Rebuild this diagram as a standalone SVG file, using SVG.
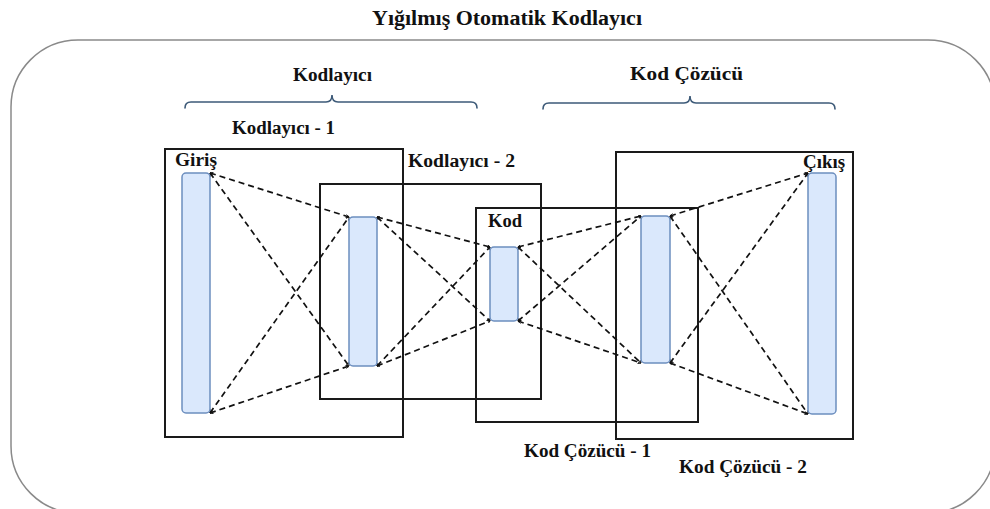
<svg xmlns="http://www.w3.org/2000/svg" width="990" height="509" viewBox="0 0 990 509">
  <style>
    .lbl { font-family: "Liberation Serif", "DejaVu Serif", "Times New Roman", serif; font-weight: bold; fill: #111; }
    .frame { fill: none; stroke: #8a8a8a; stroke-width: 1.5; }
    .group { fill: none; stroke: #1a1a1a; stroke-width: 2; }
    .layer { fill: #dae8fc; stroke: #6c8ebf; stroke-width: 1.5; }
    .brace { fill: none; stroke: #3d5a78; stroke-width: 1.6; stroke-linecap: round; }
    .link { fill: none; stroke: #111; stroke-width: 1.7; stroke-dasharray: 6 4; marker-start: url(#tip); marker-end: url(#tip); }
  </style>
  <defs>
    <marker id="tip" viewBox="0 0 6 6" refX="5.5" refY="3" markerWidth="3.5" markerHeight="3.5" orient="auto-start-reverse" markerUnits="userSpaceOnUse">
      <path d="M0,0 L6,3 L0,6" fill="none" stroke="#111" stroke-width="1.4"/>
    </marker>
  </defs>
  <rect width="990" height="509" fill="#ffffff"/>

  <!-- title -->
  <text class="lbl" x="507" y="25" font-size="20" text-anchor="middle" textLength="270" lengthAdjust="spacingAndGlyphs">Yığılmış Otomatik Kodlayıcı</text>

  <!-- outer rounded frame -->
  <rect class="frame" x="11" y="40" width="984" height="473" rx="67" ry="67"/>

  <!-- encoder / decoder braces -->
  <g id="encoder-brace">
    <path class="brace" d="M185,108 Q185,102 191,102 L326,102 Q332,102 332,95 Q332,102 338,102 L471,102 Q477,102 477,108"/>
    <text class="lbl" x="293" y="81" font-size="18" textLength="79" lengthAdjust="spacingAndGlyphs">Kodlayıcı</text>
  </g>
  <g id="decoder-brace">
    <path class="brace" d="M543,109 Q543,103 549,103 L684,103 Q690,103 690,96 Q690,103 696,103 L829,103 Q835,103 835,109"/>
    <text class="lbl" x="630" y="80" font-size="18" textLength="113" lengthAdjust="spacingAndGlyphs">Kod Çözücü</text>
  </g>

  <!-- stage boxes -->
  <g id="encoder-1">
    <rect class="group" x="165" y="149" width="238" height="288"/>
    <text class="lbl" x="232" y="134" font-size="18" textLength="103" lengthAdjust="spacingAndGlyphs">Kodlayıcı - 1</text>
  </g>
  <g id="encoder-2">
    <rect class="group" x="320" y="184" width="221" height="215"/>
    <text class="lbl" x="408" y="167" font-size="18" textLength="107" lengthAdjust="spacingAndGlyphs">Kodlayıcı - 2</text>
  </g>
  <g id="decoder-1">
    <rect class="group" x="476" y="208" width="222" height="214"/>
    <text class="lbl" x="524" y="457" font-size="18" textLength="127" lengthAdjust="spacingAndGlyphs">Kod Çözücü - 1</text>
  </g>
  <g id="decoder-2">
    <rect class="group" x="616" y="152" width="237" height="287"/>
    <text class="lbl" x="679" y="473" font-size="18" textLength="128" lengthAdjust="spacingAndGlyphs">Kod Çözücü - 2</text>
  </g>

  <!-- dashed connections between layers -->
  <g id="connectors">
    <line class="link" x1="210" y1="173" x2="349" y2="217"/>
    <line class="link" x1="210" y1="173" x2="349" y2="366"/>
    <line class="link" x1="210" y1="413" x2="349" y2="217"/>
    <line class="link" x1="210" y1="413" x2="349" y2="366"/>
    <line class="link" x1="377" y1="217" x2="490" y2="247"/>
    <line class="link" x1="377" y1="217" x2="490" y2="321"/>
    <line class="link" x1="377" y1="366" x2="490" y2="247"/>
    <line class="link" x1="377" y1="366" x2="490" y2="321"/>
    <line class="link" x1="518" y1="247" x2="641" y2="216"/>
    <line class="link" x1="518" y1="247" x2="641" y2="363"/>
    <line class="link" x1="518" y1="321" x2="641" y2="216"/>
    <line class="link" x1="518" y1="321" x2="641" y2="363"/>
    <line class="link" x1="670" y1="216" x2="808" y2="173"/>
    <line class="link" x1="670" y1="216" x2="808" y2="414"/>
    <line class="link" x1="670" y1="363" x2="808" y2="173"/>
    <line class="link" x1="670" y1="363" x2="808" y2="414"/>
  </g>

  <!-- layers -->
  <g id="input">
    <rect class="layer" x="182" y="173" width="28" height="240" rx="4"/>
    <text class="lbl" x="175" y="166" font-size="18" textLength="42" lengthAdjust="spacingAndGlyphs">Giriş</text>
  </g>
  <g id="hidden-1">
    <rect class="layer" x="349" y="217" width="28" height="149" rx="4"/>
  </g>
  <g id="code">
    <rect class="layer" x="490" y="247" width="28" height="74" rx="4"/>
    <text class="lbl" x="488" y="227" font-size="18" textLength="34" lengthAdjust="spacingAndGlyphs">Kod</text>
  </g>
  <g id="hidden-3">
    <rect class="layer" x="641" y="216" width="29" height="147" rx="4"/>
  </g>
  <g id="output">
    <rect class="layer" x="808" y="173" width="28" height="241" rx="4"/>
    <text class="lbl" x="803" y="168" font-size="18" textLength="42" lengthAdjust="spacingAndGlyphs">Çıkış</text>
  </g>
</svg>
